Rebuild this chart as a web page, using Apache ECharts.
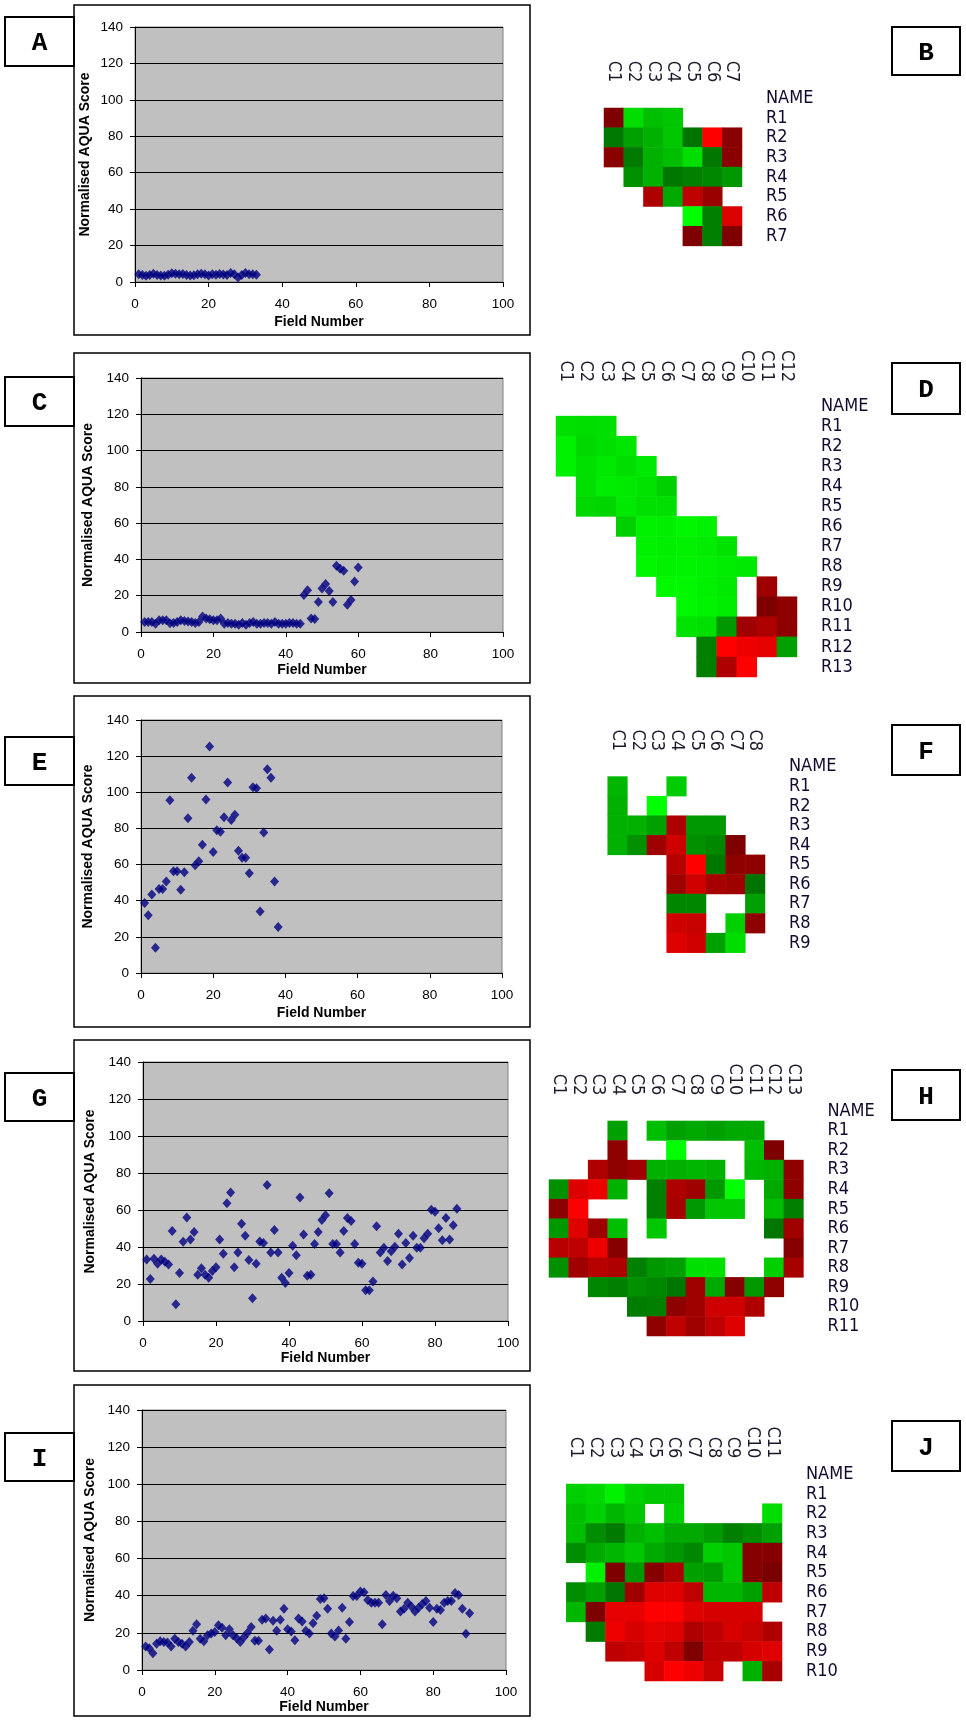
<!DOCTYPE html>
<html><head><meta charset="utf-8">
<script src="https://cdn.jsdelivr.net/npm/echarts@6/dist/echarts.min.js"></script>
<style>html,body{margin:0;padding:0;background:#fff}#c{width:966px;height:1721px}</style>
</head><body><div id="c"></div>
<script>
// ---------- DATA ----------
const xTicks = [0, 20, 40, 60, 80, 100];
const yTicks = [0, 20, 40, 60, 80, 100, 120, 140];
const xTitle = 'Field Number';
const yTitle = 'Normalised AQUA Score';

// Normalised AQUA score per field (field numbers 1..n)
const scoreA = [4.2,3.8,3.5,3.8,4.5,3.9,3.6,3.4,4.0,4.8,4.5,4.2,4.4,3.8,3.6,3.7,4.3,4.5,4.2,3.6,4.3,4.0,4.4,4.1,3.9,5.0,4.2,2.5,3.8,5.0,4.2,4.3,4.0];
const scoreC = [5.5,5.5,5.5,4.5,6.5,6.5,6.5,4.8,5,5.5,6.5,6,5.8,5.5,5,5.5,8.5,7.5,7,6.5,6.5,7.5,4.5,5,4.5,4.5,4,5,4,5,5.5,4.5,4.5,5,5,4.5,5.5,4.5,4.5,4.5,5,5,4.5,4.5,20.4,23,7.4,7.2,16.5,24,26.5,22.6,16.5,36.5,34.8,33.7,15,17.6,27.8,35.5];
const scoreE = [38.7,32,43.4,14,46.5,46.5,50.6,95.6,56.3,56.3,46,55.8,85.7,108,59.6,61.8,71,96,125.3,67,79,78.2,86.2,105.4,84.7,87.6,67.7,63.8,63.8,55.2,102.8,102.2,34,77.7,112.7,108,50.6,25.5];
const scoreG = [33.2,22.7,33.7,31,33.2,32,30.5,48.6,9,26,42.9,55.9,44.1,48.1,25,28.5,25,23.4,27,29,44.1,36.4,63.6,69.4,29,37,52.6,46.1,33,12.3,31,43,42.2,73.5,37,49.2,37,23.4,20.5,26,40.7,35.5,66.8,46.7,24.5,25,41.6,48.1,54.6,57.1,69,41.6,41.6,37,48.6,55.7,54,41.6,31.5,31,16.6,16.6,21.4,51.2,37,39.6,32.4,37.7,40.2,47.2,30.5,42.2,34,46.1,39.6,39.6,44.7,47.2,60.2,59.1,50.1,43.6,55.7,44.1,51.7,60.7];
const scoreI = [12.6,11.7,9,14.2,15.5,15.1,14.8,12.6,16.8,15.1,14.2,12.6,15.1,21.1,24.7,16.8,15.5,18.7,19.6,20.5,24.1,22.7,18.7,22,18.7,17.1,15.1,17.7,20,23.2,15.7,15.7,27,27.7,11,26.5,21.1,27,33,22,20.7,16,27.7,26.1,21.1,19.6,25.2,29.2,38.2,38.7,33,19.6,18,21.3,33.5,16.8,25.8,39.8,39.8,42.3,41.8,37.7,36.2,36.2,36.2,24.7,40.4,37.1,40,38.7,31.5,33,36.2,34.2,31.5,33.5,35.5,37.1,33.5,25.8,33,32.3,36.2,37.1,37.1,41.4,40.4,33,19.5,30.6];

// Heatmap column / row labels
const colsB = ['C1','C2','C3','C4','C5','C6','C7'];
const rowsB = ['NAME','R1','R2','R3','R4','R5','R6','R7'];
const colsD = ['C1','C2','C3','C4','C5','C6','C7','C8','C9','C10','C11','C12'];
const rowsD = ['NAME','R1','R2','R3','R4','R5','R6','R7','R8','R9','R10','R11','R12','R13'];
const colsF = ['C1','C2','C3','C4','C5','C6','C7','C8'];
const rowsF = ['NAME','R1','R2','R3','R4','R5','R6','R7','R8','R9'];
const colsH = ['C1','C2','C3','C4','C5','C6','C7','C8','C9','C10','C11','C12','C13'];
const rowsH = ['NAME','R1','R2','R3','R4','R5','R6','R7','R8','R9','R10','R11'];
const colsJ = ['C1','C2','C3','C4','C5','C6','C7','C8','C9','C10','C11'];
const rowsJ = ['NAME','R1','R2','R3','R4','R5','R6','R7','R8','R9','R10'];

// Heatmap values (negative = green, positive = red, null = empty); rows R1.., cols C1..
const n = null;
const heatB = [
  [0.52,-0.88,-0.77,-0.80,n,n,n],
  [-0.51,-0.66,-0.72,-0.80,-0.5,1.0,0.56],
  [0.56,-0.52,-0.72,-0.77,-0.88,-0.51,0.56],
  [n,-0.60,-0.72,-0.51,-0.54,-0.57,-0.63],
  [n,n,0.70,-0.69,0.76,0.62,n],
  [n,n,n,n,-1.0,-0.54,0.87],
  [n,n,n,n,0.52,-0.54,0.52]
];
const heatD = [
  [-0.89,-0.88,-0.89,n,n,n,n,n,n,n,n,n],
  [-0.95,-0.86,-0.89,-0.91,n,n,n,n,n,n,n,n],
  [-0.95,-0.89,-0.92,-0.88,-0.92,n,n,n,n,n,n,n],
  [n,-0.89,-0.93,-0.92,-0.90,-0.83,n,n,n,n,n,n],
  [n,-0.86,-0.85,-0.92,-0.89,-0.89,n,n,n,n,n,n],
  [n,n,n,-0.83,-0.95,-0.94,-0.97,-0.95,n,n,n,n],
  [n,n,n,n,-0.95,-0.94,-0.95,-0.93,-0.90,n,n,n],
  [n,n,n,n,-0.97,-0.95,-0.96,-0.95,-0.93,-0.92,n,n],
  [n,n,n,n,n,-0.975,-0.975,-0.95,-0.92,n,0.64,n],
  [n,n,n,n,n,n,-0.975,-0.96,-0.93,n,0.52,0.58],
  [n,n,n,n,n,n,-0.90,-0.89,-0.63,0.64,0.70,0.58],
  [n,n,n,n,n,n,n,-0.54,1.0,0.94,0.91,-0.66],
  [n,n,n,n,n,n,n,-0.54,0.70,1.0,n,n]
];
const heatF = [
  [-0.74,n,n,-0.82,n,n,n,n],
  [-0.72,n,-1.0,n,n,n,n,n],
  [-0.72,-0.72,-0.66,0.70,-0.63,-0.63,n,n],
  [-0.72,-0.60,0.64,0.82,-0.60,-0.57,0.52,n],
  [n,n,n,0.73,1.0,-0.51,0.58,0.58],
  [n,n,n,0.64,0.82,0.67,0.64,-0.5],
  [n,n,n,-0.57,-0.57,n,n,-0.66],
  [n,n,n,0.82,0.79,n,-0.83,0.58],
  [n,n,n,0.88,0.82,-0.66,-0.88,n]
];
const heatH = [
  [n,n,n,-0.66,n,-0.77,-0.66,-0.69,-0.66,-0.69,-0.69,n,n],
  [n,n,n,0.58,n,n,-1.0,n,n,n,-0.77,0.52,n],
  [n,n,0.70,0.58,0.64,-0.72,-0.72,-0.74,-0.72,n,-0.74,-0.72,0.58],
  [-0.60,0.87,0.94,-0.72,n,-0.54,0.70,0.64,-0.63,-1.0,n,-0.69,0.58],
  [0.58,1.0,n,n,n,-0.54,0.67,-0.63,-0.80,-0.80,n,-0.77,-0.54],
  [-0.63,0.88,0.64,-0.77,n,-0.80,n,n,n,n,n,-0.51,0.64],
  [0.73,0.76,0.94,0.55,n,n,n,n,n,n,n,n,0.55],
  [-0.60,0.64,0.73,0.70,-0.54,-0.63,-0.66,-0.89,-0.89,n,n,-0.83,0.67],
  [n,n,-0.57,-0.54,-0.60,-0.57,-0.51,0.64,-0.69,0.55,-0.63,0.58,n],
  [n,n,n,n,-0.53,-0.54,0.58,0.64,0.82,0.82,0.70,n,n],
  [n,n,n,n,n,0.58,0.76,0.64,0.76,0.88,n,n,n]
];
const heatJ = [
  [-0.83,-0.86,-0.95,-0.83,-0.80,-0.80,n,n,n,n,n],
  [-0.77,-0.83,-0.74,-0.80,n,-0.83,n,n,n,n,-0.88],
  [-0.77,-0.59,-0.52,-0.72,-0.77,-0.69,-0.69,-0.64,-0.54,-0.59,-0.66],
  [-0.59,-0.69,-0.74,-0.80,-0.69,-0.63,-0.57,-0.83,-0.80,0.55,0.55],
  [n,-0.95,0.52,-0.63,0.55,0.70,-0.66,-0.64,-0.80,0.55,0.50],
  [-0.59,-0.66,-0.51,0.64,0.88,0.88,0.76,-0.74,-0.74,-0.66,0.76],
  [-0.74,0.52,0.91,0.91,1.0,1.0,0.88,0.85,0.85,0.85,n],
  [n,-0.53,0.94,0.85,0.91,0.88,0.70,0.76,0.85,0.79,0.70],
  [n,n,0.76,0.79,0.88,0.76,0.52,0.76,0.76,0.85,0.88],
  [n,n,n,n,0.85,1.0,0.94,0.79,n,-0.72,0.67]
];

// ---------- LAYOUT ----------
const SANS = "'Liberation Sans', Arial, sans-serif";
const NARROW = "'Liberation Sans Narrow', 'DejaVu Sans Condensed', 'Liberation Sans', sans-serif";
const MONO = "'Liberation Mono', 'Courier New', monospace";

const scatterPanels = [
  {data: scoreA, grid:{left:135, top:27, width:368, height:255}, box:[74,5,456,330], label:'A', lbox:[5,17,69,49], yGap:43, xGap:33},
  {data: scoreC, grid:{left:141, top:378, width:362, height:254}, box:[74,353,456,330], label:'C', lbox:[5,377,69,49], yGap:46, xGap:31},
  {data: scoreE, grid:{left:141, top:720, width:361, height:253}, box:[74,696,456,331], label:'E', lbox:[5,737,69,48], yGap:46, xGap:33},
  {data: scoreG, grid:{left:143, top:1062, width:365, height:259}, box:[74,1040,456,331], label:'G', lbox:[5,1073,69,48], yGap:46, xGap:30},
  {data: scoreI, grid:{left:142, top:1410, width:364, height:260}, box:[74,1385,456,331], label:'I', lbox:[5,1433,69,48], yGap:45, xGap:26}
];
const heatPanels = [
  {vals: heatB, cols: colsB, rows: rowsB, grid:{left:604, top:88.3, width:138, height:157.6}, cm:6, label:'B', lbox:[892,27,68,48]},
  {vals: heatD, cols: colsD, rows: rowsD, grid:{left:556, top:396, width:241, height:281}, cm:14, label:'D', lbox:[892,363,68,51]},
  {vals: heatF, cols: colsF, rows: rowsF, grid:{left:607.7, top:757, width:157.3, height:195.7}, cm:6, label:'F', lbox:[892,725,68,50]},
  {vals: heatH, cols: colsH, rows: rowsH, grid:{left:549, top:1101.4, width:254.4, height:234.6}, cm:6, label:'H', lbox:[892,1070,68,50]},
  {vals: heatJ, cols: colsJ, rows: rowsJ, grid:{left:566.3, top:1464.3, width:215.7, height:216.7}, cm:6, label:'J', lbox:[892,1421,68,50]}
];

const grids = [], xAxes = [], yAxes = [], series = [], graphics = [];

scatterPanels.forEach((p, i) => {
  grids.push(Object.assign({show:true, backgroundColor:'#c0c0c0', borderColor:'#808080', borderWidth:1, containLabel:false, outerBoundsMode:'none'}, p.grid));
  xAxes.push({gridIndex:i, type:'value', min:xTicks[0], max:xTicks[xTicks.length-1], interval:xTicks[1]-xTicks[0],
    name:xTitle, nameLocation:'middle', nameGap:p.xGap,
    nameTextStyle:{fontWeight:'bold', fontSize:14, color:'#000', fontFamily:SANS},
    axisLine:{show:true, onZero:false, lineStyle:{color:'#000', width:1}},
    axisTick:{show:true, length:5, lineStyle:{color:'#000'}},
    axisLabel:{fontSize:13.5, color:'#000', fontFamily:SANS, margin:15},
    splitLine:{show:false}});
  yAxes.push({gridIndex:i, type:'value', min:yTicks[0], max:yTicks[yTicks.length-1], interval:yTicks[1]-yTicks[0],
    name:yTitle, nameLocation:'middle', nameGap:p.yGap,
    nameTextStyle:{fontWeight:'bold', fontSize:14, color:'#000', fontFamily:SANS},
    axisLine:{show:true, onZero:false, lineStyle:{color:'#000', width:1}},
    axisTick:{show:true, length:5, lineStyle:{color:'#000'}},
    axisLabel:{fontSize:13.5, color:'#000', fontFamily:SANS, margin:12},
    splitLine:{show:true, lineStyle:{color:'#000', width:1}}});
  series.push({type:'scatter', xAxisIndex:i, yAxisIndex:i, symbol:'diamond', symbolSize:[9,10],
    itemStyle:{color:'#000080'}, data:p.data.map((v, k) => [k + 1, v]), silent:true, z:3});
  graphics.push({type:'rect', z:-10, shape:{x:p.box[0], y:p.box[1], width:p.box[2], height:p.box[3]},
    style:{fill:'#fff', stroke:'#000', lineWidth:1.5}});
});

const hmSeriesIdx = [];
heatPanels.forEach((p, j) => {
  const gi = scatterPanels.length + j;
  grids.push(Object.assign({show:false, containLabel:false, outerBoundsMode:'none'}, p.grid));
  xAxes.push({gridIndex:gi, type:'category', data:p.cols, position:'top',
    axisLine:{show:false}, axisTick:{show:false}, splitLine:{show:false},
    axisLabel:{interval:0, rotate:90, margin:p.cm, fontSize:18, color:'#1a1a2a', fontFamily:NARROW}});
  yAxes.push({gridIndex:gi, type:'category', data:p.rows, inverse:true, position:'right',
    axisLine:{show:false}, axisTick:{show:false}, splitLine:{show:false},
    axisLabel:{interval:0, margin:24, fontSize:18, color:'#140a30', fontFamily:NARROW}});
  const d = [];
  p.vals.forEach((row, r) => row.forEach((v, c) => { if (v !== null) d.push([c, r + 1, v]); }));
  hmSeriesIdx.push(series.length);
  series.push({type:'heatmap', xAxisIndex:gi, yAxisIndex:gi, data:d, silent:true, emphasis:{disabled:true}});
});

// letter label boxes
scatterPanels.concat(heatPanels).forEach(p => {
  const b = p.lbox;
  graphics.push({type:'rect', z:100, shape:{x:b[0], y:b[1], width:b[2], height:b[3]},
    style:{fill:'#fff', stroke:'#000', lineWidth:2}});
  graphics.push({type:'text', z:101, x:b[0] + b[2] / 2, y:b[1] + b[3] / 2 + 2,
    style:{text:p.label, fill:'#000', fontSize:26, fontWeight:'bold', fontFamily:MONO, align:'center', verticalAlign:'middle'}});
});

const chart = echarts.init(document.getElementById('c'), null, {renderer:'canvas'});
chart.setOption({
  animation:false,
  backgroundColor:'#fff',
  grid:grids, xAxis:xAxes, yAxis:yAxes, series:series,
  visualMap:{type:'continuous', show:false, min:-1, max:1, dimension:2, seriesIndex:hmSeriesIdx,
    inRange:{color:['#00ff00','#007400','#000000','#7a0000','#ff0000']}},
  graphic:{elements:graphics}
});
</script>
</body></html>
